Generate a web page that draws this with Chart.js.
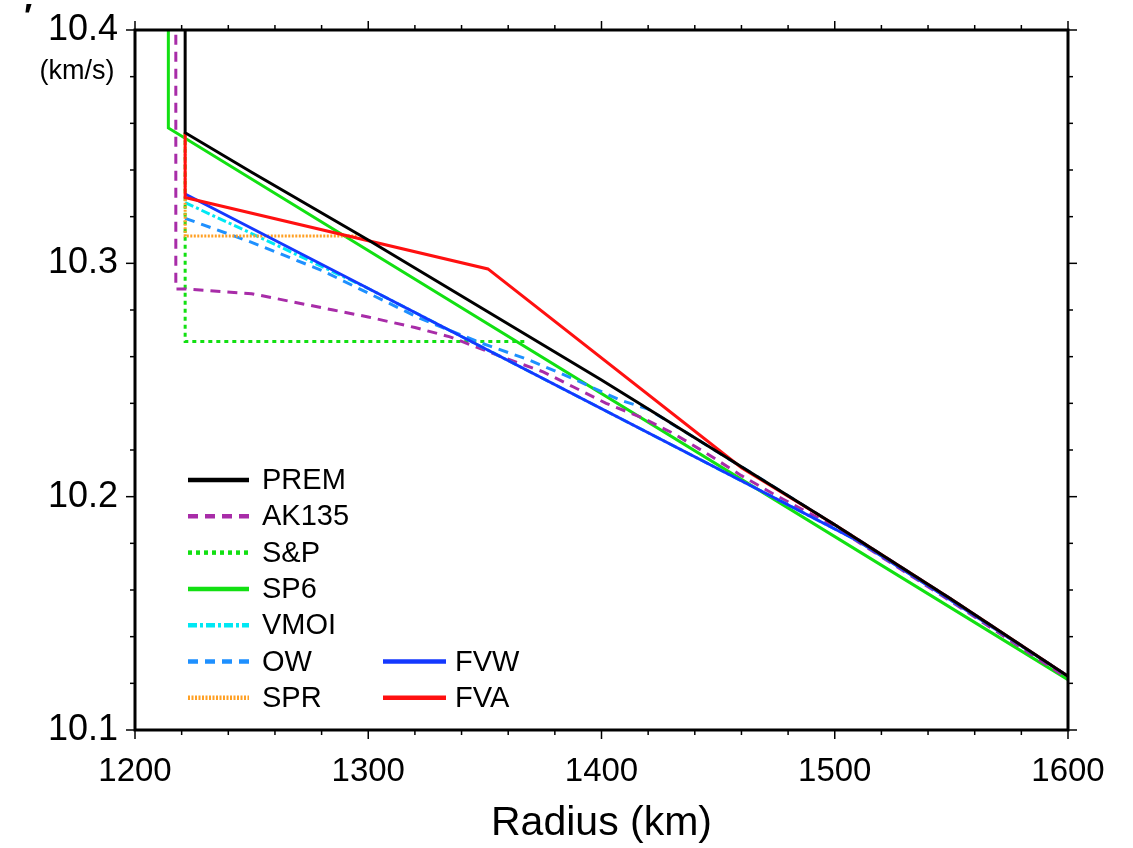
<!DOCTYPE html>
<html><head><meta charset="utf-8">
<script src="https://cdn.jsdelivr.net/npm/chart.js@4.4.1/dist/chart.umd.min.js"></script>
<style>html,body{margin:0;padding:0;background:#fff;}#wrap{position:relative;width:1133px;height:848px;}</style>
</head><body><div id="wrap"><canvas id="c" width="1133" height="848"></canvas></div>
<script>
// ---- tick labels ----
const xTickLabels = [1200, 1300, 1400, 1500, 1600];
const yTickLabels = [10.1, 10.2, 10.3, 10.4];

// ---- series (radius km, Vp km/s) ----
const premRadius = [1221.5, 1221.5, 1250, 1300, 1350, 1400, 1450, 1500, 1550, 1600];
const premVp     = [10.5, 10.356, 10.339, 10.310, 10.280, 10.250, 10.219, 10.188, 10.156, 10.123];

const ak135Radius = [1217.5, 1217.5, 1222, 1250, 1285, 1300, 1320, 1335, 1357, 1375, 1388, 1402, 1417, 1431, 1445, 1460, 1474, 1500, 1550, 1600];
const ak135Vp     = [10.5, 10.289, 10.289, 10.287, 10.280, 10.277, 10.2725, 10.2685, 10.260, 10.2535, 10.247, 10.240, 10.234, 10.227, 10.2186, 10.209, 10.201, 10.187, 10.155, 10.122];

const snpRadius = [1221.5, 1221.5, 1368];
const snpVp     = [10.356, 10.2665, 10.2665];

const sp6Radius = [1214.3, 1214.3, 1600];
const sp6Vp     = [10.5, 10.358, 10.1216];

const vmoiRadius = [1221.5, 1262, 1300, 1350, 1400, 1450, 1510, 1550, 1600];
const vmoiVp     = [10.326, 10.3072, 10.2892, 10.2635, 10.2377, 10.2119, 10.181, 10.1555, 10.123];

const owRadius = [1221.5, 1250, 1280, 1322, 1348, 1369, 1389, 1408, 1420, 1450, 1500, 1550, 1600];
const owVp     = [10.3193, 10.309, 10.297, 10.2765, 10.266, 10.2586, 10.250, 10.2414, 10.2375, 10.219, 10.188, 10.156, 10.123];

const sprRadius = [1221.5, 1221.5, 1295];
const sprVp     = [10.356, 10.3117, 10.3117];

const fvwRadius = [1221.5, 1510, 1550, 1600];
const fvwVp     = [10.3297, 10.181, 10.1555, 10.123];

const fvaRadius = [1221.5, 1221.5, 1351.3, 1460, 1500, 1550, 1600];
const fvaVp     = [10.356, 10.3282, 10.2976, 10.2124, 10.188, 10.156, 10.123];

function pts(r, v) { return r.map((x, i) => ({x: x, y: v[i]})); }

const FONT = "'Liberation Sans', Arial, Helvetica, sans-serif";
Chart.defaults.font.family = FONT;
Chart.defaults.color = '#000';

function ds(label, r, v, color, dash, order) {
  return {label, data: pts(r, v), borderColor: color, backgroundColor: color, borderWidth: 3,
    borderDash: dash, pointRadius: 0, pointHoverRadius: 0, tension: 0, fill: false, order: order,
    clip: 0, borderCapStyle: 'butt', borderJoinStyle: 'miter'};
}

const datasets = [
  ds('PREM',  premRadius,  premVp,  '#000000', [], 0),
  ds('AK135', ak135Radius, ak135Vp, '#a82ca8', [10, 7], 6),
  ds('S&P',   snpRadius,   snpVp,   '#12e012', [4, 4], 8),
  ds('SP6',   sp6Radius,   sp6Vp,   '#12e012', [], 7),
  ds('VMOI',  vmoiRadius,  vmoiVp,  '#00e8f4', [9, 3, 3, 3], 5),
  ds('OW',    owRadius,    owVp,    '#1e90ff', [10, 7], 4),
  ds('SPR',   sprRadius,   sprVp,   '#ffa024', [2, 1.5], 3),
  ds('FVW',   fvwRadius,   fvwVp,   '#1438ff', [], 2),
  ds('FVA',   fvaRadius,   fvaVp,   '#ff1010', [], 1)
];

const isMajorX = v => xTickLabels.some(t => Math.abs(t - v) < 1e-6);
const isMajorY = v => yTickLabels.some(t => Math.abs(t - v) < 1e-6);

const framePlugin = {
  id: 'frame',
  afterDraw(chart) {
    const {ctx, chartArea: a, scales: {x, y}} = chart;
    ctx.save();
    ctx.strokeStyle = '#000';
    ctx.lineWidth = 1.5;
    ctx.setLineDash([]);
    const seg = (x1, y1, x2, y2) => { ctx.beginPath(); ctx.moveTo(x1, y1); ctx.lineTo(x2, y2); ctx.stroke(); };
    x.ticks.forEach(t => {
      const px = x.getPixelForValue(t.value);
      const L = isMajorX(t.value) ? 9 : 5;
      seg(px, a.bottom, px, a.bottom + L);
      seg(px, a.top, px, a.top - L);
    });
    y.ticks.forEach(t => {
      const py = y.getPixelForValue(t.value);
      const L = isMajorY(t.value) ? 9 : 5;
      seg(a.left - L, py, a.left, py);
      seg(a.right, py, a.right + L, py);
    });
    ctx.lineWidth = 3;
    ctx.strokeRect(a.left, a.top, a.right - a.left, a.bottom - a.top);

    // unit label and stray mark
    ctx.fillStyle = '#000';
    ctx.textAlign = 'center';
    ctx.textBaseline = 'middle';
    ctx.font = '27px ' + FONT;
    ctx.fillText('(km/s)', 77, 72);
    ctx.font = 'bold 34px ' + FONT;
    ctx.fillText('\u2032', 28, 18);

    // legend
    const rowY = i => 480 + i * 36.3;
    const items = [
      {name: 'PREM', col: 0, row: 0}, {name: 'AK135', col: 0, row: 1}, {name: 'S&P', col: 0, row: 2},
      {name: 'SP6', col: 0, row: 3}, {name: 'VMOI', col: 0, row: 4}, {name: 'OW', col: 0, row: 5},
      {name: 'SPR', col: 0, row: 6}, {name: 'FVW', col: 1, row: 5}, {name: 'FVA', col: 1, row: 6}
    ];
    const cols = [{x0: 188, x1: 249, tx: 262}, {x0: 383, x1: 446, tx: 455}];
    ctx.font = '29px ' + FONT;
    ctx.textAlign = 'left';
    items.forEach(it => {
      const d = chart.data.datasets.find(s => s.label === it.name);
      const c = cols[it.col], yy = rowY(it.row);
      ctx.strokeStyle = d.borderColor;
      ctx.lineWidth = 4.5;
      ctx.setLineDash(d.borderDash || []);
      seg(c.x0, yy, c.x1, yy);
      ctx.setLineDash([]);
      ctx.fillStyle = '#000';
      ctx.fillText(it.name, c.tx, yy + 1);
    });
    ctx.restore();
  }
};

new Chart(document.getElementById('c'), {
  type: 'line',
  data: {datasets},
  options: {
    responsive: false,
    animation: false,
    devicePixelRatio: 1,
    layout: {padding: {top: 30, right: 65, left: 0, bottom: 0}},
    plugins: {legend: {display: false}, tooltip: {enabled: false}},
    events: [],
    scales: {
      x: {
        type: 'linear', min: 1200, max: 1600,
        grid: {display: false, drawTicks: false},
        border: {display: false},
        ticks: {stepSize: 20, autoSkip: false, maxRotation: 0, padding: 22,
          font: {size: 33}, color: '#000',
          callback: v => isMajorX(v) ? String(v) : ''},
        title: {display: true, text: 'Radius (km)', font: {size: 41}, color: '#000', padding: {top: 0, bottom: 0}},
        afterFit: s => { s.height = 118; s.paddingLeft = 0; s.paddingRight = 0; }
      },
      y: {
        type: 'linear', min: 10.1, max: 10.4,
        grid: {display: false, drawTicks: false},
        border: {display: false},
        ticks: {stepSize: 0.02, autoSkip: false, padding: 17,
          font: {size: 36}, color: '#000',
          callback: v => isMajorY(v) ? v.toFixed(1) : ''},
        afterFit: s => { s.width = 135; s.paddingTop = 0; s.paddingBottom = 0; }
      }
    }
  },
  plugins: [framePlugin]
});
</script>
</body></html>
